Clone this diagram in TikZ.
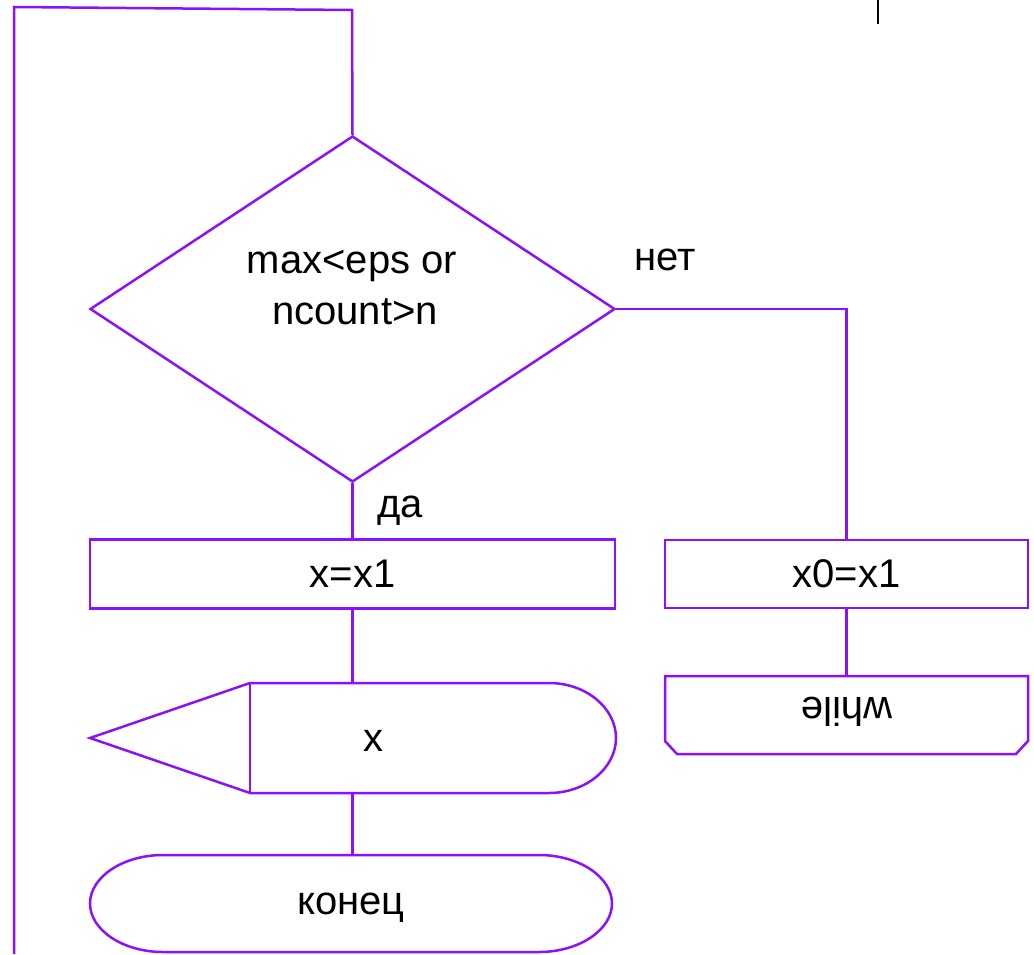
\documentclass[tikz,border=0pt]{standalone}
\usepackage{fontspec}
\setmainfont{Liberation Sans}
\usetikzlibrary{shapes.geometric,calc}
\definecolor{flow}{RGB}{140,16,250}

\begin{document}
\begin{tikzpicture}[x=1pt,y=-1pt,
  line/.style={draw=flow,line width=2.5pt},
  lbl/.style={font=\fontsize{40}{50}\selectfont, inner sep=0pt, text=black},
  procbox/.style={draw=flow, line width=2.5pt, minimum width=#1, minimum height=69pt,
                  inner sep=0pt, font=\fontsize{40}{50}\selectfont},
  ghost/.style={inner sep=0pt, outer sep=0pt}]
\useasboundingbox (0,0) rectangle (1034,954);

% decision
\node[diamond, draw=flow, line width=2.5pt, aspect=1.517,
      minimum width=525pt, minimum height=346pt, inner sep=0pt] (cond) at (352.5,309) {};
\node[lbl, anchor=base] (condA) at (352,273) {max<eps or};
\node[lbl, anchor=base] (condB) at (355,324) {ncount>n};
\node[lbl, anchor=base west] (no) at (634,270) {нет};
\node[lbl, anchor=base west] (yes) at (377,517) {да};

% assignments
\node[procbox=525pt] (setx) at (352.5,574) {x=x1};
\node[procbox=363pt, minimum height=68pt] (setx0) at (846.5,574) {x0=x1};

% loop end (upside-down label)
\node[ghost, minimum width=363pt, minimum height=78pt] (loopend) at (846.5,715) {};
\draw[line] (loopend.north west) -- (loopend.north east) -- ++(0,65) -- ++(-12,13)
            -- ($(loopend.south west)+(12,0)$) -- ++(-12,-13) -- cycle;
\node[lbl, rotate=180] (whiletxt) at (847,712) {while};

% display (output)
\node[ghost, minimum width=366pt, minimum height=110pt] (disp) at (433,738) {};
\draw[line] (disp.north west) -- (549,683)
            .. controls (586,683) and (616,708) .. (616,738)
            .. controls (616,768) and (586,793) .. (549,793)
            -- (disp.south west) -- (90,738) -- cycle;
\draw[draw=flow, line width=1.2pt] (disp.north west) -- (disp.south west);
\node[lbl] (outx) at (373,741) {x};

% terminal
\node[ghost, minimum width=522pt, minimum height=97pt] (stop) at (351,903.5) {};
\draw[line] (163,855) -- (539,855)
            .. controls (579,855) and (612,877) .. (612,903.5)
            .. controls (612,930) and (579,952) .. (539,952)
            -- (163,952)
            .. controls (123,952) and (90,930) .. (90,903.5)
            .. controls (90,877) and (123,855) .. (163,855) -- cycle;
\node[lbl] (stoptxt) at (351,908) {конец};

% connectors
\coordinate (loopR) at (352,10);
\coordinate (loopL) at (14,7);
\coordinate (loopEnd) at (14,954);
\draw[line] (cond.north) -- (loopR) -- (loopL) -- (loopEnd);
\draw[line] (cond.south) -- (setx.north);
\draw[line] (cond.east) -| (setx0.north);
\draw[line] (setx0.south) -- (loopend.north);
\draw[line] (setx.south) -- (setx.south |- disp.north);
\draw[line] (setx.south |- disp.south) -- (setx.south |- stop.north);

% stray mark
\coordinate (tickTop) at (878,0);
\coordinate (tickBot) at (878,24);
\draw[black, line width=2pt] (tickTop) -- (tickBot);
\end{tikzpicture}
\end{document}
